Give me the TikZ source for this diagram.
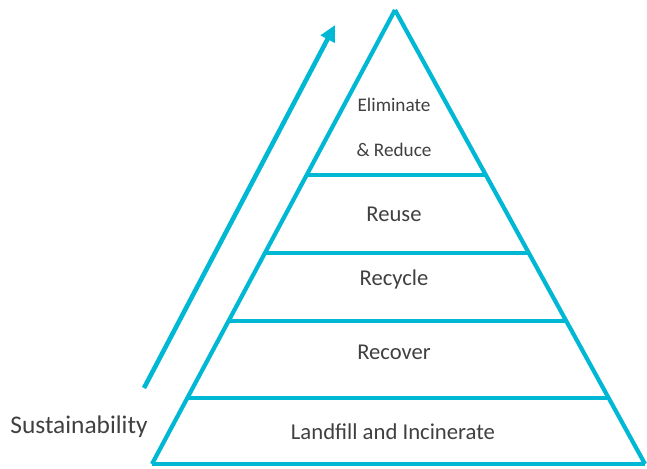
\documentclass[tikz,border=0pt]{standalone}
\usepackage{fontspec}
\setmainfont{Carlito}
\usetikzlibrary{calc,arrows.meta}
\definecolor{teal}{RGB}{0,184,212}
\definecolor{ink}{RGB}{64,64,64}
\begin{document}
\begin{tikzpicture}[x=1pt,y=-1pt,
  edge/.style={draw=teal,line width=4.2pt},
  label/.style={text=ink,inner sep=0pt,anchor=center}]
\useasboundingbox (0,0) rectangle (647,468);
% pyramid corners
\coordinate (apex) at (395,10);
\coordinate (bl) at (152,464);
\coordinate (br) at (645,464);
% sides and base
\draw[edge] (apex) -- (bl);
\draw[edge] (apex) -- (br);
\draw[edge] (bl) -- (br);
% tier dividers
\foreach \t/\n in {0.3634/a,0.5352/b,0.685/c,0.8546/d}{
  \coordinate (l\n) at ($(apex)!\t!(bl)$);
  \coordinate (r\n) at ($(apex)!\t!(br)$);
  \draw[edge] (l\n) -- (r\n);
}
% sustainability arrow
\coordinate (s0) at (144,388);
\coordinate (s1) at (335,25);
\draw[draw=teal,fill=teal,line width=4.6pt,-{Triangle[length=16pt,width=15pt]}] (s0) -- (s1);
% labels
\node[label,font=\fontsize{19.2}{22}\selectfont] (elim) at (394,105) {Eliminate};
\node[label,font=\fontsize{19.2}{22}\selectfont] (red) at (394,150) {\&\ Reduce};
\node[label,font=\fontsize{22.6}{26}\selectfont] (reuse) at (394,214) {Reuse};
\node[label,font=\fontsize{22.6}{26}\selectfont] (recy) at (394,279) {Recycle};
\node[label,font=\fontsize{22.6}{26}\selectfont] (recov) at (394,352) {Recover};
\node[label,font=\fontsize{22.7}{26}\selectfont] (land) at (393,432) {Landfill and Incinerate};
\node[label,font=\fontsize{25.4}{30}\selectfont] (sust) at (79,427) {Sustainability};
\end{tikzpicture}
\end{document}
